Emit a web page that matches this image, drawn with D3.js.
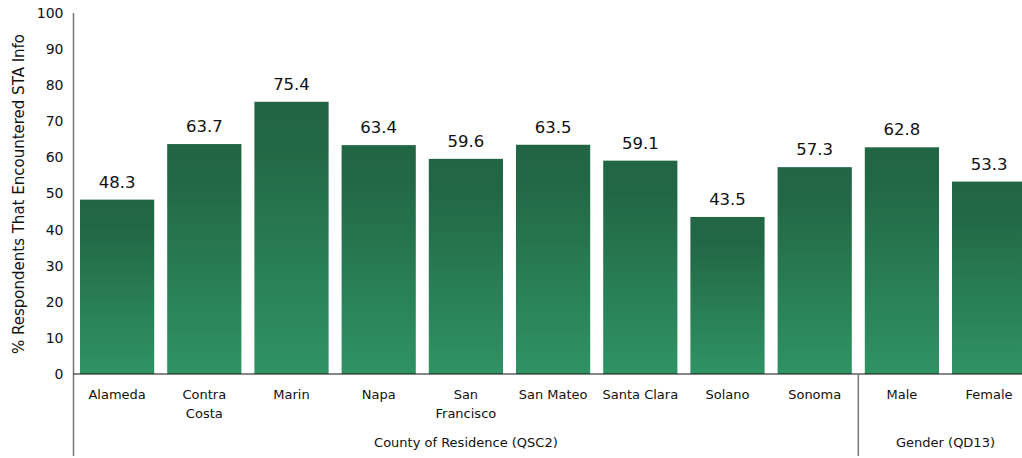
<!DOCTYPE html>
<html><head><meta charset="utf-8">
<script src="https://cdn.jsdelivr.net/npm/d3@7"></script>
<style>body{margin:0;background:#fff}svg{display:block}text{font-family:"DejaVu Sans",sans-serif;fill:#111}</style>
</head><body><svg id="c" width="1022" height="458"></svg>
<script>
const categories = [["Alameda"],["Contra","Costa"],["Marin"],["Napa"],["San","Francisco"],["San Mateo"],["Santa Clara"],["Solano"],["Sonoma"],["Male"],["Female"]];
const values = [48.3,63.7,75.4,63.4,59.6,63.5,59.1,43.5,57.3,62.8,53.3];
const yTicks = [0,10,20,30,40,50,60,70,80,90,100];
const groups = [{name:"County of Residence (QSC2)", from:0, to:9},{name:"Gender (QD13)", from:9, to:11}];
const yTitle = "% Respondents That Encountered STA Info";

const svg = d3.select("#c");
const x0 = 73.5, step = 87.2;
const x = d3.scaleBand().domain(d3.range(categories.length)).range([x0, x0 + step*categories.length]).paddingInner(13/87.2).paddingOuter(6.5/87.2);
const y = d3.scaleLinear().domain([0,100]).range([374,13]);

const defs = svg.append("defs");
const g = defs.append("linearGradient").attr("id","bg").attr("x1",0).attr("y1",0).attr("x2",0).attr("y2",1);
g.append("stop").attr("offset",0).attr("stop-color","#216545");
g.append("stop").attr("offset",0.15).attr("stop-color","#226745");
g.append("stop").attr("offset",1).attr("stop-color","#2f9364");

svg.selectAll("rect.bar").data(values).join("rect").attr("class","bar")
  .attr("x",(d,i)=>x(i)).attr("width",x.bandwidth())
  .attr("y",d=>y(d)).attr("height",d=>y(0)-y(d)).attr("fill","url(#bg)");

svg.selectAll("text.val").data(values).join("text").attr("class","val")
  .attr("x",(d,i)=>x(i)+x.bandwidth()/2).attr("y",d=>y(d)-12)
  .attr("text-anchor","middle").attr("font-size",16.5).text(d=>d.toFixed(1));

// y axis
const ya = svg.append("g").attr("transform",`translate(${x0},0)`)
  .call(d3.axisLeft(y).tickValues(yTicks).tickSize(0).tickPadding(10));
ya.select(".domain").remove();
ya.selectAll("text").attr("font-size",14).attr("font-family","DejaVu Sans").attr("fill","#111");
svg.append("line").attr("x1",x0).attr("x2",x0).attr("y1",13).attr("y2",456).attr("stroke","#777").attr("stroke-width",1.5);
svg.append("line").attr("x1",x0).attr("x2",1022).attr("y1",y(0)).attr("y2",y(0)).attr("stroke","#111").attr("stroke-width",1.2);

svg.append("text").attr("transform","translate(24,194) rotate(-90)").attr("text-anchor","middle").attr("font-size",15).text(yTitle);

// category labels
categories.forEach((lines,i)=>{
  const t = svg.append("text").attr("text-anchor","middle").attr("font-size",13).attr("x",x(i)+x.bandwidth()/2).attr("y",399);
  lines.forEach((l,j)=>t.append("tspan").attr("x",x(i)+x.bandwidth()/2).attr("dy",j?19:0).text(l));
});

// group separators and labels
const sepX = x(9) - (step - x.bandwidth())/2;
svg.append("line").attr("x1",sepX).attr("x2",sepX).attr("y1",y(0)).attr("y2",456).attr("stroke","#777").attr("stroke-width",1.5);
groups.forEach(gp=>{
  const a = gp.from===0 ? x0 : x(gp.from)-(step-x.bandwidth())/2;
  const b = x(gp.to-1)+x.bandwidth()+(step-x.bandwidth())/2;
  svg.append("text").attr("text-anchor","middle").attr("font-size",13).attr("x",(a+b)/2).attr("y",447).text(gp.name);
});
</script></body></html>
